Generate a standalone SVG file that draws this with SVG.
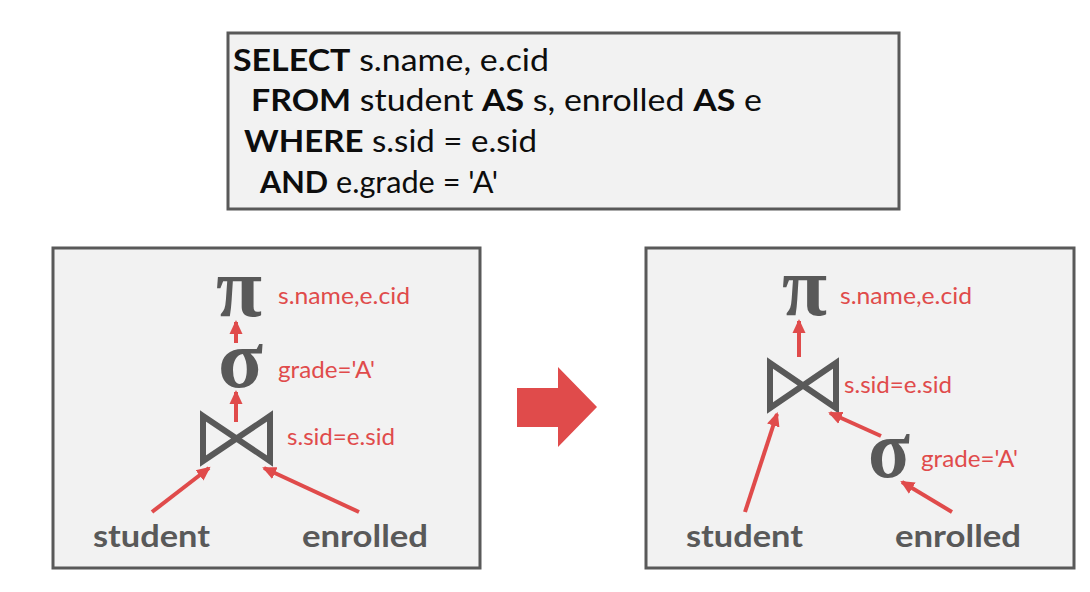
<svg xmlns="http://www.w3.org/2000/svg" width="1090" height="592" viewBox="0 0 1090 592">
  <defs>
    <marker id="head" markerUnits="userSpaceOnUse" markerWidth="16" markerHeight="16" viewBox="0 0 16 16" refX="12" refY="8" orient="auto">
      <path d="M0,1.5 L14,8 L0,14.5 Z" fill="#e04b4b"/>
    </marker>
    <style>
      .panel { fill: #f2f2f2; stroke: #595959; stroke-width: 3; }
      .sql { font-family: Lato, "Open Sans", sans-serif; font-size: 31px; fill: #0d0d0d; }
      .kw { font-weight: bold; }
      .op { font-family: "Liberation Serif", serif; font-weight: bold; fill: #595959; }
      .cond { font-family: Lato, "Open Sans", sans-serif; font-size: 24px; fill: #e04b4b; }
      .rel { font-family: Lato, "Open Sans", sans-serif; font-size: 31px; font-weight: bold; fill: #595959; }
      .join { fill: none; stroke: #595959; stroke-width: 6; stroke-linejoin: miter; }
      .edge { stroke: #e04b4b; stroke-width: 4; fill: none; marker-end: url(#head); }
    </style>
  </defs>

  <rect width="1090" height="592" fill="#ffffff"/>

  <!-- SQL query -->
  <g id="query">
    <rect class="panel" x="228" y="33" width="671" height="176"/>
    <text class="sql" x="233" y="71" textLength="316" lengthAdjust="spacingAndGlyphs"><tspan class="kw">SELECT</tspan> s.name, e.cid</text>
    <text class="sql" x="251" y="111" textLength="511" lengthAdjust="spacingAndGlyphs"><tspan class="kw">FROM</tspan> student <tspan class="kw">AS</tspan> s, enrolled <tspan class="kw">AS</tspan> e</text>
    <text class="sql" x="244" y="152" textLength="293" lengthAdjust="spacingAndGlyphs"><tspan class="kw">WHERE</tspan> s.sid = e.sid</text>
    <text class="sql" x="260" y="193" textLength="238" lengthAdjust="spacingAndGlyphs"><tspan class="kw">AND</tspan> e.grade = 'A'</text>
  </g>

  <!-- Left plan: join, then filter, then project -->
  <g id="plan-left">
    <rect class="panel" x="53" y="248" width="427" height="320"/>
    <g id="l-project">
      <text class="op" x="216" y="316" font-size="84" textLength="46" lengthAdjust="spacingAndGlyphs">π</text>
      <text class="cond" x="278" y="304" textLength="132" lengthAdjust="spacingAndGlyphs">s.name,e.cid</text>
    </g>
    <g id="l-select">
      <text class="op" x="218" y="387" font-size="82" textLength="45" lengthAdjust="spacingAndGlyphs">σ</text>
      <text class="cond" x="278" y="378" textLength="97" lengthAdjust="spacingAndGlyphs">grade='A'</text>
    </g>
    <g id="l-join">
      <path class="join" d="M203,416 L270,461 L270,416 L203,461 Z"/>
      <text class="cond" x="287" y="445" textLength="108" lengthAdjust="spacingAndGlyphs">s.sid=e.sid</text>
    </g>
    <g id="l-student">
      <text class="rel" x="93" y="547" textLength="117" lengthAdjust="spacingAndGlyphs">student</text>
    </g>
    <g id="l-enrolled">
      <text class="rel" x="302" y="547" textLength="126" lengthAdjust="spacingAndGlyphs">enrolled</text>
    </g>
  </g>

  <!-- Right plan: filter pushed below the join -->
  <g id="plan-right">
    <rect class="panel" x="646" y="248" width="428" height="320"/>
    <g id="r-project">
      <text class="op" x="782" y="315" font-size="84" textLength="45" lengthAdjust="spacingAndGlyphs">π</text>
      <text class="cond" x="840" y="304" textLength="132" lengthAdjust="spacingAndGlyphs">s.name,e.cid</text>
    </g>
    <g id="r-join">
      <path class="join" d="M770,363 L836,408 L836,363 L770,408 Z"/>
      <text class="cond" x="844" y="393" textLength="108" lengthAdjust="spacingAndGlyphs">s.sid=e.sid</text>
    </g>
    <g id="r-select">
      <text class="op" x="868" y="477" font-size="82" textLength="42" lengthAdjust="spacingAndGlyphs">σ</text>
      <text class="cond" x="921" y="467" textLength="97" lengthAdjust="spacingAndGlyphs">grade='A'</text>
    </g>
    <g id="r-student">
      <text class="rel" x="686" y="547" textLength="117" lengthAdjust="spacingAndGlyphs">student</text>
    </g>
    <g id="r-enrolled">
      <text class="rel" x="895" y="547" textLength="126" lengthAdjust="spacingAndGlyphs">enrolled</text>
    </g>
  </g>

  <!-- Rewrite arrow between the two plans -->
  <g id="rewrite-arrow">
    <path d="M517,388 L558,388 L558,367 L597,407 L558,447 L558,427 L517,427 Z" fill="#e04b4b"/>
  </g>

  <!-- Data-flow edges -->
  <g id="connectors">
    <line class="edge" x1="236" y1="343" x2="236" y2="322"/>
    <line class="edge" x1="236" y1="422" x2="236" y2="392"/>
    <line class="edge" x1="152" y1="512" x2="209" y2="468"/>
    <line class="edge" x1="359" y1="512" x2="264" y2="468"/>

    <line class="edge" x1="799" y1="357" x2="799" y2="321"/>
    <line class="edge" x1="745" y1="512" x2="777" y2="414"/>
    <line class="edge" x1="881" y1="436" x2="830" y2="413"/>
    <line class="edge" x1="952" y1="512" x2="902" y2="482"/>
  </g>
</svg>
